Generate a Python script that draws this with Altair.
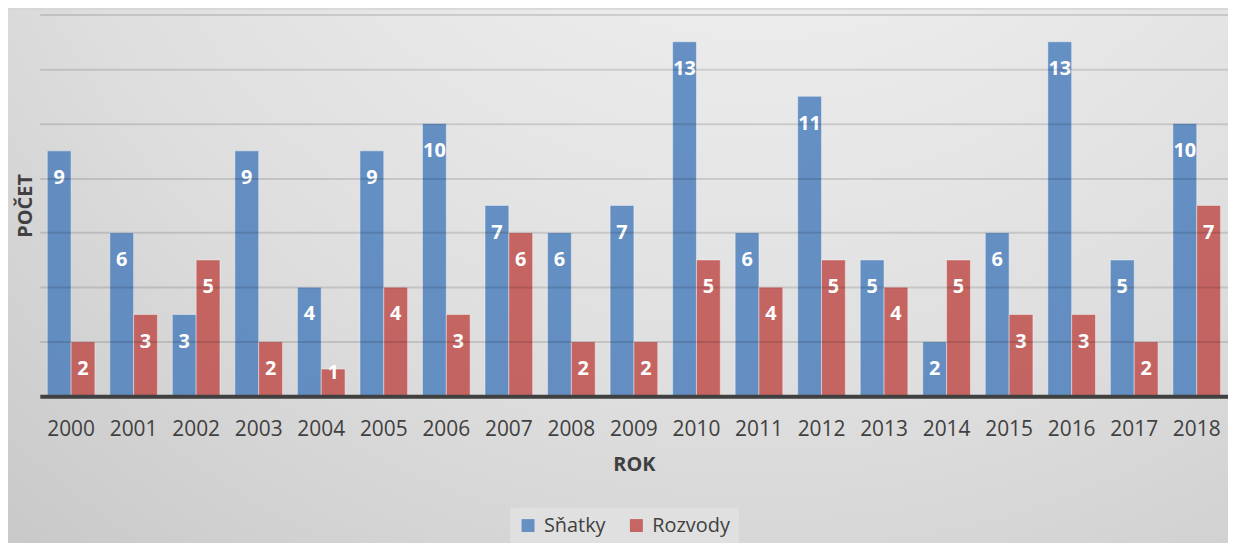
import altair as alt
import pandas as pd

years = ["2000", "2001", "2002", "2003", "2004", "2005", "2006", "2007", "2008", "2009",
         "2010", "2011", "2012", "2013", "2014", "2015", "2016", "2017", "2018"]
snatky = [9, 6, 3, 9, 4, 9, 10, 7, 6, 7, 13, 6, 11, 5, 2, 6, 13, 5, 10]
rozvody = [2, 3, 5, 2, 1, 4, 3, 6, 2, 2, 5, 4, 5, 4, 5, 3, 3, 2, 7]
series = ["Sňatky", "Rozvody"]
colors = ["#4F81BD", "#C0504D"]
y_ticks = [0, 2, 4, 6, 8, 10, 12, 14]

rows = []
for i, yr in enumerate(years):
    rows.append({"rok": yr, "typ": series[0], "pocet": snatky[i]})
    rows.append({"rok": yr, "typ": series[1], "pocet": rozvody[i]})
df = pd.DataFrame(rows)

W, H = 1195, 384
PAD_L, PAD_T, PAD_B = 32, 5, 146
FONT = "Open Sans"
TXT = "#404040"

bg = alt.Chart(pd.DataFrame({"a": [0]})).mark_rect(
    clip=False,
    fill=alt.RadialGradient(
        gradient="radial",
        x1=0.6, y1=0.0, r1=0.0,
        x2=0.6, y2=0.0, r2=1.0,
        stops=[alt.GradientStop(offset=0, color="#f8f8f8"),
               alt.GradientStop(offset=0.6, color="#dedede"),
               alt.GradientStop(offset=1, color="#c4c4c4")],
    ),
).encode(
    x=alt.value(-PAD_L), x2=alt.value(W + 40),
    y=alt.value(-PAD_T), y2=alt.value(H + PAD_B + 10),
)

x_enc = alt.X(
    "rok:N",
    sort=years,
    title="ROK",
    scale=alt.Scale(paddingInner=0.238, paddingOuter=0.119),
    axis=alt.Axis(
        labelAngle=0, ticks=False, grid=False,
        domainColor="#404040", domainWidth=4,
        labelFontSize=21, labelColor=TXT, labelFont=FONT, labelPadding=22,
        titleFontSize=20, titleFontWeight="bold", titleColor=TXT, titleFont=FONT,
        titlePadding=16, zindex=1,
    ),
)
y_enc = alt.Y(
    "pocet:Q",
    title="POČET",
    scale=alt.Scale(domain=[0, 14], nice=False),
    axis=alt.Axis(
        values=y_ticks, labels=False, ticks=False, domain=False,
        grid=True, gridColor="#000000", gridOpacity=0.12, gridWidth=2,
        titleFontSize=20, titleFontWeight="bold", titleColor=TXT, titleFont=FONT,
        titlePadding=4, zindex=1,
    ),
)
xoff = alt.XOffset("typ:N", sort=series, scale=alt.Scale(paddingInner=0, paddingOuter=0))

bars = alt.Chart(df).mark_bar(
    opacity=0.85, stroke="#ffffff", strokeOpacity=0.45, strokeWidth=1
).encode(
    x=x_enc,
    y=y_enc,
    xOffset=xoff,
    color=alt.Color(
        "typ:N",
        sort=series,
        scale=alt.Scale(domain=series, range=colors),
        legend=alt.Legend(
            title=None, orient="none", direction="horizontal",
            legendX=473, legendY=496,
            symbolType="square", symbolSize=169, symbolStrokeWidth=0, symbolOpacity=0.85,
            labelFontSize=20, labelColor=TXT, labelFont=FONT, labelOffset=6,
            columnPadding=20, padding=8, fillColor="#e0e0e0",
        ),
    ),
)

labels = alt.Chart(df).transform_calculate(
    ly="datum.pocet > 1 ? datum.pocet - 1 : datum.pocet - 0.15"
).mark_text(
    color="white", fontWeight="bold", fontSize=20, font=FONT, baseline="middle", align="center"
).encode(
    x=alt.X("rok:N", sort=years),
    xOffset=xoff,
    y=alt.Y("ly:Q"),
    text=alt.Text("pocet:Q"),
)

chart = alt.layer(bg, bars, labels).properties(
    width=W, height=H,
    autosize=alt.AutoSizeParams(type="none"),
    padding={"left": PAD_L, "top": PAD_T, "right": 0, "bottom": PAD_B},
    background="#d8d8d8",
).configure_view(strokeWidth=0).configure(font=FONT)

chart.save("out.html", embed_options={"renderer": "svg", "actions": False})
